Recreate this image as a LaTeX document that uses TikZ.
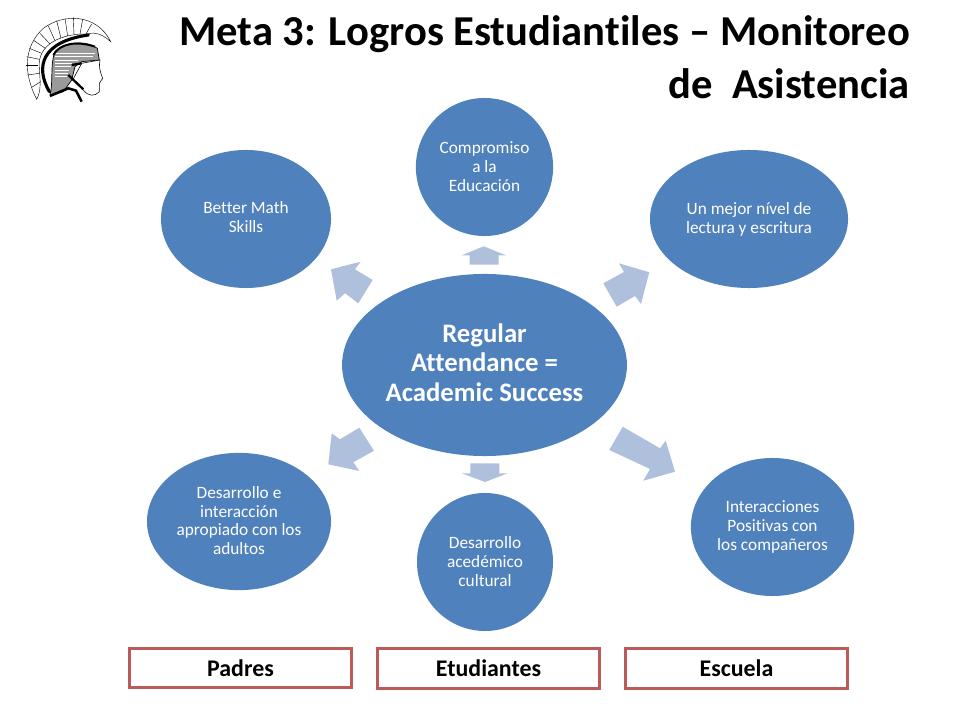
\documentclass[tikz,border=0pt]{standalone}
\usepackage{fontspec}
\setmainfont[Ligatures=CommonOff]{Carlito}
\usetikzlibrary{shapes.geometric}
\definecolor{goalblue}{HTML}{4F81BD}
\definecolor{arrowblue}{HTML}{AFC0DD}
\definecolor{boxred}{HTML}{BC5A5A}
\definecolor{helmetgray}{HTML}{9A9A9A}
\newcommand{\liftup}[1]{\rule[-#1]{0pt}{#1}}
\tikzset{
    goal/.style={ellipse, fill=goalblue, text=white, inner sep=0pt, align=center, font=\fontsize{12.3}{13.4}\selectfont},
    centergoal/.style={goal, font=\bfseries\fontsize{19}{20.8}\selectfont},
    blockarrow/.style={fill=arrowblue, draw=none},
    groupbox/.style={draw=boxred, line width=2.1pt, fill=white, minimum width=5.57cm, minimum height=0.98cm, font=\bfseries\fontsize{17}{18}\selectfont},
    titleline/.style={anchor=east, inner sep=0pt, font=\bfseries\fontsize{30.3}{32}\selectfont}
}

\begin{document}
\begin{tikzpicture}[x=0.025cm, y=-0.025cm]

    \useasboundingbox (0,0) rectangle (960,720);

    % logo
    \begin{scope}[scale=0.3333]
        \draw[fill=white, line width=0.3pt] (110,298) .. controls (70,220) and (70,140) .. (130,85) .. controls (190,40) and (290,40) .. (332,125) .. controls (300,95) and (275,98) .. (262,102) .. controls (190,100) and (110,130) .. (118,205) .. controls (120,240) and (125,270) .. (110,298) -- cycle;
        \foreach \xa/\ya/\xb/\yb in {82/225/118/220, 78/195/115/195, 80/170/118/178, 88/145/125/160, 102/122/136/145, 120/100/150/132, 145/78/165/122, 170/62/183/115, 195/55/203/108, 220/52/222/104, 248/58/240/102, 275/72/258/102}
            \draw[line width=0.3pt] (\xa,\ya) -- (\xb,\yb);
        \draw[line width=0.3pt] (95,262) -- (122,245);
        \draw[fill=helmetgray, line width=0.5pt] (150,285) .. controls (160,250) and (150,190) .. (165,155) .. controls (190,125) and (260,120) .. (292,145) -- (298,180) -- (245,185) -- (225,200) -- (215,240) -- (190,275) -- cycle;
        \foreach \ya/\xb in {160/285, 170/280, 180/235, 190/215, 200/212, 210/208, 220/205, 230/200}
            \draw[white, line width=0.25pt] (165,\ya) -- (\xb,\ya);
        \draw[line width=2.2pt, line cap=round] (148,275) .. controls (105,200) and (125,125) .. (265,105);
        \draw[line width=1.4pt] (160,165) .. controls (180,130) and (230,122) .. (285,140);
        \draw[fill=white, line width=0.4pt] (245,190) -- (300,180) .. controls (296,200) and (300,215) .. (308,235) -- (298,250) -- (298,275) .. controls (285,290) and (265,290) .. (250,270) -- (218,240) -- cycle;
        \draw[line width=1.6pt] (215,195) -- (245,190) (205,225) -- (250,268);
        \draw[line width=1.8pt] (150,288) -- (205,265) -- (228,272) -- (245,305);
    \end{scope}

    % title
    \node[titleline] (titleTop) at (910,34) {Meta 3: Logros Estudiantiles – Monitoreo};
    \node[titleline] (titleBottom) at (910,83.5) {de\ \ Asistencia};

    % arrows
    \draw[blockarrow] (483.7,246.3) -- (506,255.3) -- (498.7,255.3) -- (498.7,264.7) -- (469.7,264.7) -- (469.7,255.3) -- (461.7,255.3) -- cycle;
    \draw[blockarrow] (331,269.3) -- (360.7,261.7) -- (355,269.3) -- (372.7,280) -- (358.3,303.3) -- (345,293.3) -- (336.7,300.7) -- cycle;
    \draw[blockarrow] (649.3,272.3) -- (641,304) -- (635,296) -- (616.7,306.7) -- (603.3,283.3) -- (624,272) -- (619,263.3) -- cycle;
    \draw[blockarrow] (328.3,464.3) -- (331.7,433.3) -- (340,439.3) -- (359.3,427.7) -- (374,450.7) -- (353.3,462.3) -- (359.3,471) -- cycle;
    \draw[blockarrow] (675,471.7) -- (643.3,480.7) -- (650,469) -- (609.3,450) -- (622.7,426.7) -- (660,448.3) -- (665.7,440.7) -- cycle;
    \draw[blockarrow] (485,482) -- (461.7,473.3) -- (470.3,473.3) -- (470.3,463.3) -- (499.3,463.3) -- (499.3,473.3) -- (507.7,473.3) -- cycle;

    % goals
    \node[centergoal, minimum width=7.12cm, minimum height=4.55cm] (attendance) at (484.5,365) {Regular\\Attendance =\\Academic Success\liftup{3.5pt}};
    \node[goal, minimum width=3.43cm, minimum height=3.45cm] (compromiso) at (484.5,167) {Compromiso\\a la\\Educación\liftup{1pt}};
    \node[goal, minimum width=4.25cm, minimum height=3.45cm] (math) at (246,219) {Better Math\\Skills\liftup{2.8pt}};
    \node[goal, minimum width=4.95cm, minimum height=3.45cm] (lectura) at (749,219) {Un mejor nível de\\lectura y escritura};
    \node[goal, minimum width=4.6cm, minimum height=3.43cm] (adultos) at (239,521.5) {Desarrollo e\\interacción\\apropiado con los\\adultos\liftup{1.4pt}};
    \node[goal, minimum width=3.4cm, minimum height=3.45cm] (cultural) at (485,562) {Desarrollo\\acedémico\\cultural\liftup{1pt}};
    \node[goal, minimum width=4.08cm, minimum height=3.45cm] (companeros) at (772.5,527) {Interacciones\\Positivas con\\los compañeros};

    % groups
    \node[groupbox] (padres) at (240.5,668) {Padres};
    \node[groupbox] (estudiantes) at (488.5,668.5) {Etudiantes};
    \node[groupbox] (escuela) at (736.5,668.5) {Escuela};

\end{tikzpicture}
\end{document}
